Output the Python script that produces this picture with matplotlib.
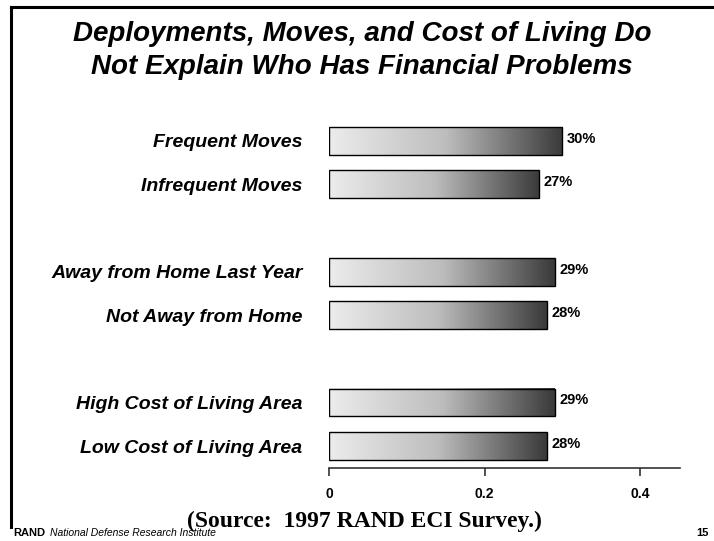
import numpy as np
import matplotlib
matplotlib.use("Agg")
import matplotlib.pyplot as plt
from matplotlib.colors import LinearSegmentedColormap

categories = ["Frequent Moves", "Infrequent Moves",
              "Away from Home Last Year", "Not Away from Home",
              "High Cost of Living Area", "Low Cost of Living Area"]
values = [0.30, 0.27, 0.29, 0.28, 0.29, 0.28]
positions = [0, 1, 3, 4, 6, 7]
xticks = [0, 0.2, 0.4]
xtick_labels = ["0", "0.2", "0.4"]

plt.rcParams['font.family'] = ['Liberation Sans', 'DejaVu Sans']

fig = plt.figure(figsize=(7.14, 5.41), dpi=100)
ax = fig.add_axes([0.4608, 0.135, 0.4916, 0.645])

# grey ramp used to fill each bar from left to right
ramp = LinearSegmentedColormap.from_list("ramp", ["#ececec", "#bdbdbd", "#3a3a3a"])
grad = np.linspace(0, 1, 256).reshape(1, -1)
h = 0.64
for pos, val in zip(positions, values):
    ax.imshow(grad, cmap=ramp, aspect='auto', interpolation='bilinear',
              extent=[0, val, pos + h / 2, pos - h / 2], zorder=2)
ax.barh(positions, values, height=h, facecolor='none', edgecolor='black',
        linewidth=1.0, zorder=3)

for pos, val in zip(positions, values):
    ax.text(val + 0.006, pos - 0.05, f"{val * 100:.0f}%", va='center', ha='left',
            fontsize=10.5, fontweight='bold')

ax.set_xlim(0, 0.451)
ax.set_ylim(7.5, -0.5)
ax.set_yticks(positions)
ax.set_yticklabels(categories, fontsize=14, fontweight='bold', fontstyle='italic')
ax.tick_params(axis='y', length=0, pad=19)
ax.set_xticks(xticks)
ax.set_xticklabels(xtick_labels, fontsize=10, fontweight='bold')
ax.tick_params(axis='x', direction='out', length=6, width=1.2, color='#333333', pad=8)
for side in ['top', 'right', 'left']:
    ax.spines[side].set_visible(False)
ax.spines['bottom'].set_color('#333333')
ax.spines['bottom'].set_linewidth(1.2)

fig.text(0.507, 0.907, "Deployments, Moves, and Cost of Living Do\nNot Explain Who Has Financial Problems",
         ha='center', va='center', fontsize=20, fontweight='bold', fontstyle='italic',
         linespacing=1.35)

fig.text(0.511, 0.037, "(Source:  1997 RAND ECI Survey.)", ha='center', va='center',
         fontsize=17, fontweight='bold', family=['Liberation Serif', 'DejaVu Serif'])
fig.text(0.018, 0.015, "RAND", ha='left', va='center', fontsize=8, fontweight='black')
fig.text(0.07, 0.015, "National Defense Research Institute", ha='left', va='center',
         fontsize=7.5, fontstyle='italic')
fig.text(0.993, 0.015, "15", ha='right', va='center', fontsize=8, fontweight='bold')

# slide frame along the top and left
fig.add_artist(plt.Line2D([11 / 714, 1.0], [1 - 7 / 541, 1 - 7 / 541], color='black',
                          linewidth=2.2, transform=fig.transFigure))
fig.add_artist(plt.Line2D([11 / 714, 11 / 714], [1 - 7 / 541, 1 - 527 / 541], color='black',
                          linewidth=2.2, transform=fig.transFigure))

fig.savefig("out.png", dpi=100)
